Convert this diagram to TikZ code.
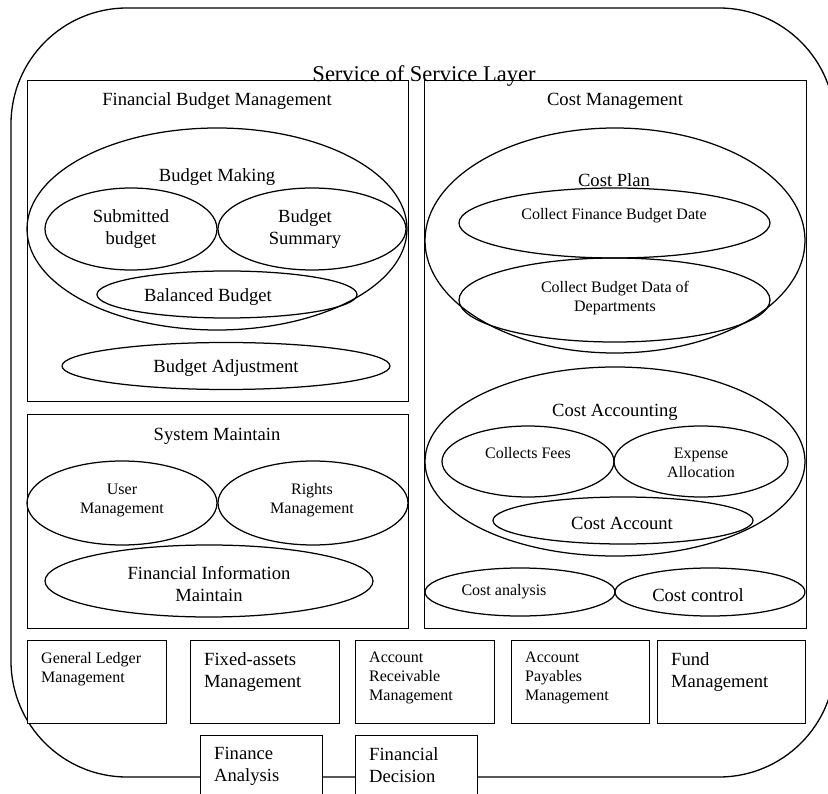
\documentclass[tikz,border=0pt]{standalone}
\usepackage{fontspec}
\setmainfont{Liberation Serif}
\usetikzlibrary{shapes.geometric}
\begin{document}
\begin{tikzpicture}[x=1pt, y=-1pt,
    oval/.style={draw, ellipse, line width=1.25pt, inner sep=0pt},
    panel/.style={draw, line width=1.3pt, inner sep=0pt, anchor=north west},
    modbox/.style={draw, fill=white, line width=1.4pt, inner sep=0pt, anchor=north west},
    big/.style={font=\fontsize{18.6}{22}\selectfont, align=center, inner sep=0pt},
    small/.style={font=\fontsize{16}{19}\selectfont, align=center, inner sep=0pt}]
    \useasboundingbox (0,0) rectangle (828,794);
    \draw[line width=1.3pt, rounded corners=116pt] (11,8) rectangle (835,777);
    \node[font=\fontsize{22.5}{27}\selectfont, inner sep=0pt] (layer) at (424,76) {Service of Service Layer};
    % panels
    \foreach \n/\x/\y/\w/\h in {fbm/27/80/381/321, sm/27/414/381/214, cm/424/80/382/548}
    {
        \node[panel, minimum width=\w pt, minimum height=\h pt] (\n) at (\x,\y) {};
    }
    % ellipses
    \foreach \n/\x/\y/\rx/\ry in {bm/217/229/190/101, sb/131/229/86/41, bs/312/229/94/41,
        bb/227/294.5/130/23.5, ba/226/366/164/23.5, um/122/503/95/42, rm/313/503/95/42,
        fim/209/581/164/36, cp/615/240.5/190/112.5, cfb/614.5/223/155.5/35, cbd/614.5/300/155.5/42,
        ca/615/461.5/190/94.5, cf/528/461.5/86/35.5, ea/701/461.5/87/35.5, cac/623/520.5/130/23.5,
        can/520/592/95/24, cc/710/592/95/24}
    {
        \node[oval, minimum width=2*\rx pt, minimum height=2*\ry pt] (\n) at (\x,\y) {};
    }
    % labels
    \foreach \n/\x/\y/\s/\t in {fbm/217/101/big/{Financial Budget Management}, bm/217/177/big/{Budget Making},
        sb/131/229/big/{Submitted\\budget}, bs/305/229/big/{Budget\\Summary}, bb/208/297/big/{Balanced Budget},
        ba/226/368/big/{Budget Adjustment}, sm/217/436/big/{System Maintain}, um/122/500/small/{User\\Management},
        rm/312/500/small/{Rights\\Management}, fim/209/584/big/{Financial Information\\Maintain},
        cm/615/101/big/{Cost Management}, cp/614/180/big/{Cost Plan}, cfb/614/216/small/{Collect Finance Budget Date},
        cbd/615/298/small/{Collect Budget Data of\\Departments}, ca/615/412/big/{Cost Accounting},
        cf/528/453/small/{Collects Fees}, ea/701/463/small/{Expense\\Allocation}, cac/622/523/big/{Cost Account},
        can/504/592/small/{Cost analysis}, cc/698/595/big/{Cost control}}
    {
        \node[\s] (\n-t) at (\x,\y) {\t};
    }
    % modules
    \foreach \n/\x/\y/\w/\h/\s/\t in {gl/27/640/139/83/small/{General Ledger\\Management},
        fam/190/640/149/83/big/{Fixed-assets\\Management}, arm/355/640/139/83/small/{Account\\Receivable\\Management},
        apm/511/640/138/83/small/{Account\\Payables\\Management}, fum/657/640/148/83/big/{Fund\\Management},
        fan/200/735/122/70/big/{Finance\\Analysis}, fd/355/735/122/70/big/{Financial\\Decision}}
    {
        \node[modbox, minimum width=\w pt, minimum height=\h pt] (\n) at (\x,\y) {};
        \node[\s, align=left, anchor=north west] (\n-t) at ([shift={(14,12)}]\n.north west) {\t};
    }
\end{tikzpicture}
\end{document}
